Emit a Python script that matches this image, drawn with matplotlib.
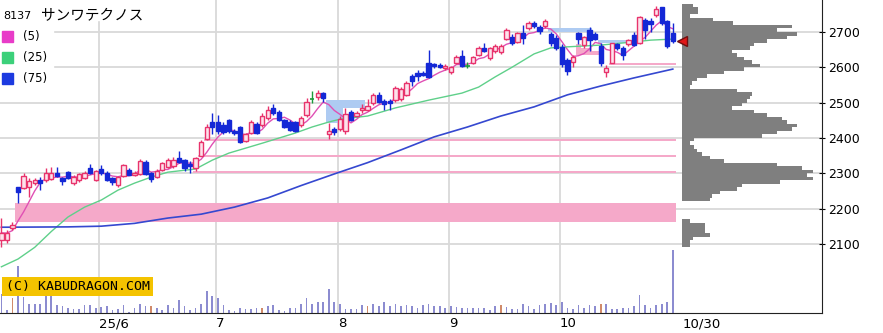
import matplotlib
matplotlib.use('Agg')
import matplotlib.pyplot as plt
from matplotlib.patches import Rectangle
import numpy as np
import pandas as pd

plt.rcParams['font.family'] = ['DejaVu Sans', 'Noto Sans CJK JP']

# ---- data (daily candles, 2025/5/7 - 10/30) ----
code = '8137'
name = 'サンワテクノス'

opens = [2111, 2112, 2146, 2260, 2258, 2262, 2272, 2282, 2280, 2285,
         2302, 2286, 2303, 2272, 2280, 2287, 2315, 2280, 2312, 2302,
         2287, 2268, 2292, 2310, 2296, 2298, 2333, 2300, 2290, 2309,
         2318, 2320, 2342, 2337, 2325, 2315, 2350, 2396, 2445, 2445,
         2437, 2450, 2420, 2430, 2391, 2414, 2440, 2437, 2456, 2485,
         2473, 2450, 2445, 2445, 2437, 2465, 2510, 2516, 2526, 2410,
         2425, 2425, 2420, 2474, 2463, 2478, 2480, 2498, 2522, 2505,
         2505, 2507, 2510, 2522, 2574, 2585, 2585, 2612, 2608, 2607,
         2597, 2588, 2613, 2632, 2605, 2612, 2636, 2655, 2627, 2645,
         2643, 2680, 2686, 2672, 2697, 2711, 2725, 2715, 2716, 2695,
         2683, 2658, 2620, 2615, 2697, 2662, 2705, 2695, 2660, 2588,
         2613, 2666, 2655, 2665, 2692, 2670, 2733, 2732, 2747, 2770,
         2732, 2697]
highs = [2173, 2140, 2162, 2262, 2301, 2286, 2286, 2288, 2315, 2318,
         2318, 2290, 2306, 2296, 2300, 2306, 2325, 2310, 2323, 2305,
         2290, 2292, 2326, 2316, 2305, 2340, 2338, 2303, 2312, 2333,
         2342, 2345, 2362, 2340, 2335, 2346, 2395, 2440, 2470, 2465,
         2445, 2453, 2425, 2435, 2413, 2452, 2445, 2472, 2490, 2495,
         2478, 2455, 2450, 2448, 2462, 2512, 2532, 2535, 2531, 2442,
         2432, 2462, 2485, 2480, 2475, 2495, 2510, 2528, 2530, 2510,
         2510, 2546, 2545, 2560, 2582, 2592, 2590, 2650, 2612, 2611,
         2610, 2603, 2635, 2650, 2615, 2632, 2660, 2668, 2658, 2665,
         2665, 2710, 2694, 2700, 2720, 2730, 2730, 2720, 2738, 2700,
         2692, 2665, 2625, 2635, 2700, 2690, 2714, 2700, 2670, 2606,
         2669, 2668, 2660, 2680, 2700, 2745, 2740, 2740, 2775, 2772,
         2735, 2725]
lows = [2091, 2103, 2138, 2216, 2255, 2232, 2266, 2252, 2275, 2280,
        2288, 2268, 2283, 2268, 2276, 2284, 2298, 2278, 2295, 2278,
        2268, 2262, 2288, 2294, 2292, 2295, 2294, 2275, 2286, 2305,
        2315, 2316, 2328, 2305, 2300, 2306, 2348, 2394, 2410, 2412,
        2412, 2415, 2408, 2385, 2388, 2410, 2410, 2432, 2452, 2465,
        2448, 2428, 2420, 2418, 2432, 2460, 2500, 2508, 2502, 2398,
        2408, 2420, 2410, 2448, 2458, 2472, 2476, 2494, 2498, 2478,
        2478, 2503, 2505, 2518, 2548, 2560, 2575, 2570, 2598, 2598,
        2593, 2580, 2610, 2602, 2598, 2608, 2632, 2642, 2622, 2640,
        2638, 2676, 2664, 2668, 2666, 2706, 2712, 2695, 2712, 2660,
        2648, 2600, 2578, 2600, 2666, 2655, 2645, 2677, 2605, 2572,
        2612, 2650, 2620, 2660, 2660, 2665, 2680, 2700, 2742, 2720,
        2655, 2668]
closes = [2131, 2130, 2152, 2247, 2292, 2278, 2280, 2272, 2300, 2302,
          2292, 2278, 2287, 2290, 2297, 2302, 2300, 2305, 2300, 2280,
          2275, 2290, 2322, 2296, 2302, 2335, 2298, 2285, 2305, 2329,
          2337, 2337, 2332, 2315, 2320, 2343, 2388, 2430, 2430, 2420,
          2417, 2420, 2413, 2388, 2410, 2446, 2414, 2462, 2478, 2470,
          2451, 2432, 2423, 2420, 2457, 2501, 2510, 2528, 2513, 2420,
          2418, 2455, 2468, 2452, 2470, 2485, 2490, 2522, 2502, 2495,
          2498, 2541, 2540, 2555, 2560, 2574, 2578, 2573, 2603, 2602,
          2605, 2600, 2629, 2605, 2605, 2628, 2655, 2646, 2655, 2660,
          2660, 2705, 2669, 2697, 2683, 2725, 2718, 2702, 2730, 2668,
          2655, 2610, 2590, 2630, 2680, 2685, 2678, 2680, 2612, 2598,
          2668, 2655, 2635, 2678, 2663, 2742, 2705, 2722, 2765, 2725,
          2660, 2675]

volume = [19, 3, 15, 47, 16, 9, 9, 9, 17, 17,
          8, 7, 5, 4, 4, 8, 8, 5, 6, 7,
          3, 4, 8, 1, 5, 9, 7, 7, 5, 3,
          8, 5, 13, 7, 3, 5, 9, 22, 17, 15,
          8, 3, 2, 5, 4, 4, 5, 5, 7, 8,
          3, 2, 5, 5, 9, 15, 9, 11, 11, 24,
          11, 9, 4, 4, 4, 8, 7, 9, 7, 11,
          7, 9, 7, 8, 7, 5, 8, 9, 7, 7,
          5, 7, 6, 5, 5, 5, 5, 5, 3, 7,
          8, 6, 4, 4, 9, 7, 4, 8, 9, 10,
          8, 11, 5, 4, 8, 5, 8, 7, 9, 9,
          4, 4, 5, 5, 7, 18, 8, 5, 8, 9,
          11, 63]
vol_red = [2, 27, 47, 66, 90, 108]

# moving averages 25 / 75 read at sample days
ma25_idx = [0, 3, 6, 9, 12, 15, 18, 21, 24, 27, 30, 35, 38, 41, 47, 53, 56, 59, 61, 66,
            71, 77, 83, 86, 89, 92, 96, 99, 102, 108, 114, 117, 121]
ma25_val = [2035, 2057, 2090, 2135, 2176, 2204, 2224, 2252, 2272, 2289, 2303, 2312, 2337,
            2357, 2385, 2414, 2431, 2445, 2453, 2462, 2485, 2507, 2527, 2544, 2573, 2600,
            2638, 2655, 2658, 2663, 2672, 2677, 2680]
ma75_idx = [0, 12, 18, 24, 30, 36, 42, 48, 54, 60, 66, 72, 78, 84, 90, 96, 102, 108, 114, 121]
ma75_val = [2147, 2148, 2150, 2158, 2173, 2184, 2204, 2230, 2265, 2298, 2330, 2366, 2403,
            2431, 2462, 2488, 2522, 2547, 2570, 2595]

# unfilled gaps (start day, end day, low, high)
gaps_up = [(2.5, 121.6, 2162, 2216), (34.5, 121.6, 2300, 2306), (35.5, 121.6, 2345, 2351),
           (36.5, 121.6, 2390, 2396), (103.5, 104.5, 2636, 2666), (104.5, 106.5, 2636, 2655),
           (106.5, 108.5, 2636, 2645), (109.5, 121.6, 2606, 2612)]
gaps_down = [(58.5, 61.5, 2442, 2507), (61.5, 65.5, 2485, 2507),
             (98.5, 106.5, 2700, 2712), (107.5, 113.5, 2670, 2677)]

# price-by-volume, 10 yen bins from 2090 upwards
pv_low = np.arange(2090, 2790, 10)
pv_vol = [8, 8, 11, 28, 23, 23, 23, 8, 0, 0,
          0, 0, 0, 28, 30, 38, 55, 60, 98, 131,
          125, 131, 120, 95, 42, 28, 20, 15, 12, 8,
          12, 80, 95, 110, 115, 105, 100, 85, 72, 50,
          60, 65, 68, 70, 55, 8, 10, 15, 25, 42,
          62, 78, 70, 62, 55, 50, 68, 72, 85, 105,
          115, 95, 110, 51, 31, 8, 16, 16, 11, 0]

month_idx = [18, 39, 61, 81, 101]
month_lab = ['25/6', '7', '8', '9', '10']
last_lab = '10/30'
price_ticks = [2100, 2200, 2300, 2400, 2500, 2600, 2700]

# ---- drawing ----
n = len(closes)
x = np.arange(n)
ma5 = pd.Series(closes).rolling(5, min_periods=1).mean()

fig = plt.figure(figsize=(8.83, 3.33), dpi=100)
rect = [0, 0.06, 0.931, 0.94]
ax = fig.add_axes(rect)
ax_v = fig.add_axes(rect, sharex=ax)
ax_v.set_zorder(0)
ax.set_zorder(1)
ax.patch.set_visible(False)

grid_c = '#d9d9d9'
for p in price_ticks:
    ax_v.axhline((p - 1904) / (2790.7 - 1904) * 313, color=grid_c, lw=1.3, zorder=0)
for m in month_idx:
    ax_v.axvline(m - 0.4, color=grid_c, lw=1.3, zorder=0)

# volume
vcol = ['#d08a6a' if i in vol_red else '#8c8cd0' for i in range(n)]
ax_v.bar(x, volume, width=0.3, color=vcol, zorder=1)
ax_v.set_ylim(0, 313)
ax_v.axis('off')

# gaps
for s, e, lo, hi in gaps_up:
    ax.add_patch(Rectangle((s, lo), e - s, hi - lo, color='#f5a9c9', lw=0, zorder=1))
for s, e, lo, hi in gaps_down:
    ax.add_patch(Rectangle((s, lo), e - s, hi - lo, color='#aecbf2', lw=0, zorder=1))

# moving averages
ax.plot(x, ma5, color='#e050b4', lw=1, zorder=2)
ax.plot(ma25_idx, ma25_val, color='#5fd08a', lw=1, zorder=2)
ax.plot(ma75_idx, ma75_val, color='#3548d0', lw=1.2, zorder=2)

# candles
bw = 0.78
for i in range(n):
    o, h, l, c = opens[i], highs[i], lows[i], closes[i]
    if c > o:
        ec, fc = '#e8336c', '#fde2ec'
    elif c < o:
        ec, fc = '#1428d6', '#1428d6'
    else:
        ec, fc = '#1a9a3a', '#1a9a3a'
    ax.vlines(i, l, h, color=ec, lw=1, zorder=3)
    if c == o:
        ax.hlines(c, i - bw / 2, i + bw / 2, color=ec, lw=1.2, zorder=4)
    else:
        ax.add_patch(Rectangle((i - bw / 2, min(o, c)), bw, abs(c - o),
                               facecolor=fc, edgecolor=ec, lw=1, zorder=4))

# price-by-volume histogram
ax.barh(pv_low, np.array(pv_vol) / 5.55, height=10, left=122.65, align='edge',
        color='#7f7f7f', zorder=2)
ax.plot(122.6, closes[-1], marker='<', ms=7, mfc='#e01818', mec='#701010', zorder=5,
        clip_on=False)

ax.set_xlim(-0.25, 147.9)
ax.set_ylim(1904, 2790.7)

ax.yaxis.tick_right()
ax.set_yticks(price_ticks)
ax.tick_params(axis='y', direction='inout', length=5, labelsize=9, pad=2)
ax.set_xticks([m - 0.4 for m in month_idx] + [122.8])
ax.set_xticklabels(month_lab + [last_lab])
for t in ax.get_xticklabels():
    t.set_ha('left')
ax.tick_params(axis='x', length=0, labelsize=9.5, pad=3)
for s in ['left', 'top']:
    ax.spines[s].set_visible(False)
for s in ['right', 'bottom']:
    ax.spines[s].set_color('#222222')

# title / legend with white backing
ax.add_patch(Rectangle((0, 0.712), 0.0645, 0.288, transform=ax.transAxes,
                       color='white', zorder=6))
ax.add_patch(Rectangle((0, 0.936), 0.183, 0.064, transform=ax.transAxes,
                       color='white', zorder=6))
ax.text(0.004, 0.949, code, transform=ax.transAxes, fontsize=8, va='center', zorder=7)
ax.text(0.05, 0.949, name, transform=ax.transAxes, fontsize=10.5, va='center', zorder=7,
        family=['Noto Sans CJK JP', 'DejaVu Sans'])
leg = [('(5)', '#e83cc8'), ('(25)', '#3cd07a'), ('(75)', '#1c3ae0')]
for k, (lab, col) in enumerate(leg):
    yc = 0.882 - k * 0.067
    ax.add_patch(Rectangle((0.0025, yc - 0.0175), 0.0134, 0.035, transform=ax.transAxes,
                           color=col, zorder=7))
    ax.text(0.028, yc, lab, transform=ax.transAxes, fontsize=8.5, va='center', zorder=7)

# watermark
ax.text(0.007, 0.085, '(C) KABUDRAGON.COM', transform=ax.transAxes, ha='left', va='center',
        fontsize=9.5, family='DejaVu Sans Mono', zorder=8,
        bbox=dict(boxstyle='square,pad=0.25', fc='#f4c300', ec='none'))

fig.savefig('out.png', dpi=100)
